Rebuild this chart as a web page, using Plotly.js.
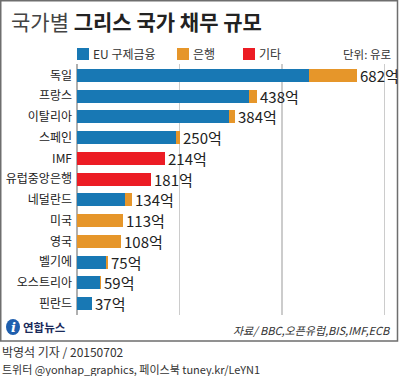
<!DOCTYPE html>
<html>
<head>
<meta charset="utf-8">
<script src="https://cdn.plot.ly/plotly-3.0.1.min.js"></script>
<style>
html,body{margin:0;padding:0;background:#fff;}
#chart{width:399px;height:376px;}
</style>
</head>
<body>
<div id="chart"></div>
<script>
// ---- data ----
const categories = ['독일','프랑스','이탈리아','스페인','IMF','유럽중앙은행','네덜란드','미국','영국','벨기에','오스트리아','핀란드'];
const euBailout = [566, 420, 370, 242, null, null, 118, null, null, 70, 55, 37];
const banks     = [116, 18, 14, 8, null, null, 16, 113, 108, 5, 4, null];
const others    = [null, null, null, null, 214, 181, null, null, null, null, null, null];
const totals    = [682, 438, 384, 250, 214, 181, 134, 113, 108, 75, 59, 37];
const seriesNames = ['EU 구제금융', '은행', '기타'];
const gridValues = [250, 500, 750];

// ---- styles ----
const COLORS = ['#1878b4', '#e6962a', '#ec1c24'];
const W = 399, H = 376;
const px = v => v / W;            // x pixel -> paper
const py = v => 1 - v / H;        // y pixel -> paper
const KR = '"Noto Sans CJK KR", "Noto Sans", sans-serif';
const NUM = '"Liberation Sans Narrow", "Noto Sans CJK KR", sans-serif';

const barTrace = (vals, i) => ({
  type: 'bar', orientation: 'h', y: categories, x: vals, name: seriesNames[i],
  marker: {color: COLORS[i], line: {width: 0}}, hoverinfo: 'skip', showlegend: false
});

const traces = [
  barTrace(euBailout, 0),
  barTrace(banks, 1),
  barTrace(others, 2)
];

const shapes = [];
const annotations = [];

// value labels placed on the data scale at each bar's total
categories.forEach((c, i) => {
  annotations.push({xref: 'x', yref: 'y', x: totals[i], y: c, xanchor: 'left', yanchor: 'middle',
    xshift: 2, showarrow: false, borderpad: 0, text: totals[i] + '억',
    font: {family: NUM, size: 15, color: '#222'}});
});

// legend (manual)
const legendX = [77, 177, 243];
seriesNames.forEach((n, i) => {
  shapes.push({type: 'rect', xref: 'paper', yref: 'paper',
    x0: px(legendX[i]), x1: px(legendX[i] + 12), y0: py(60), y1: py(48),
    fillcolor: COLORS[i], line: {width: 0}});
  annotations.push({xref: 'paper', yref: 'paper', x: px(legendX[i] + 14), y: py(54),
    xanchor: 'left', yanchor: 'middle', showarrow: false, text: n,
    font: {family: KR, size: 12, color: '#333'}});
});

// frame
shapes.push({type: 'rect', xref: 'paper', yref: 'paper', x0: px(0.75), x1: px(397.5), y0: py(341), y1: py(0.75),
  line: {color: '#6e6e6e', width: 1.5}, fillcolor: 'rgba(0,0,0,0)'});
// logo icon
shapes.push({type: 'circle', xref: 'paper', yref: 'paper', x0: px(6), x1: px(20), y0: py(335), y1: py(319),
  fillcolor: '#1f5fae', line: {width: 0}});

annotations.push(
  {xref: 'paper', yref: 'paper', x: px(9), y: py(21), xanchor: 'left', yanchor: 'middle', showarrow: false,
   text: '<span style="color:#444">국가별</span> <b>그리스 국가 채무 규모</b>',
   font: {family: KR, size: 21, color: '#222'}},
  {xref: 'paper', yref: 'paper', x: px(393), y: py(54), xanchor: 'right', yanchor: 'middle', showarrow: false,
   text: '단위: 유로', font: {family: KR, size: 11.5, color: '#333'}},
  {xref: 'paper', yref: 'paper', x: px(13), y: py(327), xanchor: 'center', yanchor: 'middle', showarrow: false,
   text: '<b><i>i</i></b>', font: {family: '"DejaVu Serif", serif', size: 13, color: '#fff'}},
  {xref: 'paper', yref: 'paper', x: px(21), y: py(327), xanchor: 'left', yanchor: 'middle', showarrow: false,
   text: '<b>연합뉴스</b>', font: {family: KR, size: 11.5, color: '#1a2a5a'}},
  {xref: 'paper', yref: 'paper', x: px(393), y: py(330), xanchor: 'right', yanchor: 'middle', showarrow: false,
   text: '<i>자료/ BBC,오픈유럽,BIS,IMF,ECB</i>', font: {family: KR, size: 11, color: '#333'}},
  {xref: 'paper', yref: 'paper', x: px(1), y: py(351.5), xanchor: 'left', yanchor: 'middle', showarrow: false, borderpad: 0,
   text: '박영석 기자 / 20150702', font: {family: KR, size: 12, color: '#333'}},
  {xref: 'paper', yref: 'paper', x: px(1), y: py(368.5), xanchor: 'left', yanchor: 'middle', showarrow: false, borderpad: 0,
   text: '트위터 @yonhap_graphics, 페이스북 tuney.kr/LeYN1', font: {family: KR, size: 11, color: '#333'}}
);

const layout = {
  width: W, height: H,
  margin: {l: 0, r: 0, t: 0, b: 0, pad: 0},
  paper_bgcolor: '#fff', plot_bgcolor: '#fff',
  barmode: 'stack', bargap: 0.37,
  showlegend: false,
  xaxis: {
    domain: [px(77), px(395)], range: [0, 775],
    tickvals: gridValues, showticklabels: false, ticks: '',
    showgrid: true, gridcolor: '#cccccc', gridwidth: 1.5,
    zeroline: true, zerolinecolor: '#b0b0b0', zerolinewidth: 1.5,
    fixedrange: true
  },
  yaxis: {
    domain: [py(315), py(64)],
    type: 'category', categoryorder: 'array', categoryarray: categories,
    autorange: 'reversed', showgrid: false, zeroline: false,
    ticks: '', ticklabelstandoff: 4,
    tickfont: {family: KR, size: 12, color: '#222'},
    fixedrange: true
  },
  shapes: shapes,
  annotations: annotations,
  font: {family: KR}
};

Plotly.newPlot('chart', traces, layout, {displayModeBar: false, staticPlot: true});
</script>
</body>
</html>
